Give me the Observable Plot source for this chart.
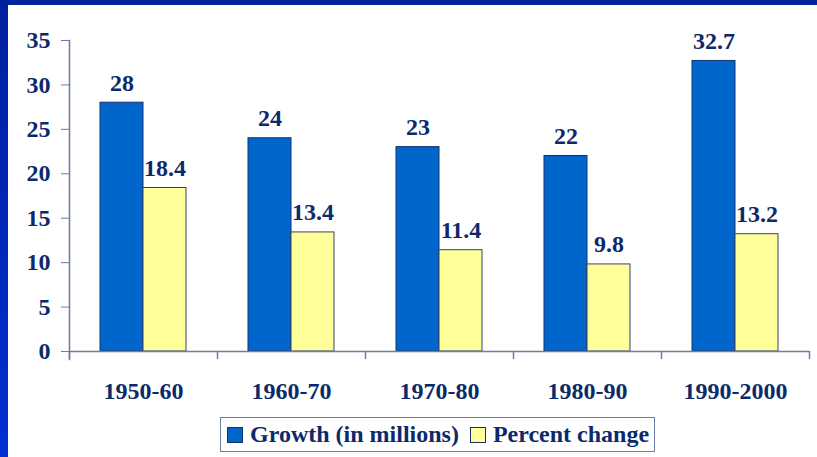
<!DOCTYPE html>
<html>
<head>
<meta charset="utf-8">
<script src="https://cdn.jsdelivr.net/npm/d3@7"></script>
<script src="https://cdn.jsdelivr.net/npm/@observablehq/plot@0.6"></script>
<style>
  html, body { margin: 0; padding: 0; background: #fff; }
  #wrap { position: relative; width: 817px; height: 457px; overflow: hidden; background: #fff; }
  #topband { position: absolute; left: 0; top: 0; width: 817px; height: 5px; background: #00229c; }
  #leftband { position: absolute; left: 0; top: 0; width: 8px; height: 457px; background: linear-gradient(#00209e, #0030d2); }
  #chart { position: absolute; left: 0; top: 0; }
  #chart svg text { font-family: "Liberation Serif", "Times New Roman", Times, serif; font-weight: bold; }
  #legend { position: absolute; left: 220px; top: 417px; width: 433px; height: 33px;
    border: 1.5px solid #6a7ca8; box-sizing: content-box; display: flex; align-items: center;
    font-family: "Liberation Serif", "Times New Roman", Times, serif; font-weight: bold; font-size: 24px; color: #0c2a6b; white-space: nowrap; }
  .sw { display: inline-block; width: 14px; height: 14px; border: 1px solid #1a2f66; margin-right: 7px; }
  .item { display: flex; align-items: center; }
</style>
</head>
<body>
<div id="wrap">
  <div id="chart"></div>
  <div id="topband"></div>
  <div id="leftband"></div>
  <div id="legend"></div>
</div>
<script>
const periods = ["1950-60", "1960-70", "1970-80", "1980-90", "1990-2000"];
const growth = [28, 24, 23, 22, 32.7];
const percentChange = [18.4, 13.4, 11.4, 9.8, 13.2];
const yTicks = [0, 5, 10, 15, 20, 25, 30, 35];
const seriesNames = ["Growth (in millions)", "Percent change"];
const seriesColors = ["#0066cc", "#ffff99"];

const navy = "#0c2a6b";
const axisColor = "#6a7ca8";

const growthRows = periods.map((p, i) => ({period: p, value: growth[i]}));
const pctRows = periods.map((p, i) => ({period: p, value: percentChange[i]}));

const chart = Plot.plot({
  width: 817,
  height: 410,
  marginLeft: 69,
  marginRight: 8,
  marginTop: 40,
  marginBottom: 59,
  style: {fontFamily: "'Liberation Serif', 'Times New Roman', serif", fontWeight: "bold", fontSize: "24px", color: navy, background: "transparent", overflow: "visible"},
  x: {domain: periods, padding: 0, label: null},
  y: {domain: [0, 35], label: null},
  marks: [
    Plot.barY(growthRows, {x: "period", y: "value", fill: seriesColors[0], stroke: "#14306e", strokeWidth: 1, insetLeft: 31, insetRight: 74}),
    Plot.barY(pctRows, {x: "period", y: "value", fill: seriesColors[1], stroke: "#3a3f6a", strokeWidth: 1, insetLeft: 74, insetRight: 31}),
    Plot.text(growthRows, {x: "period", y: "value", text: d => String(d.value), dx: -21.5, dy: -12, lineAnchor: "bottom", fill: navy}),
    Plot.text(pctRows, {x: "period", y: "value", text: d => String(d.value), dx: 21.5, dy: -12, lineAnchor: "bottom", fill: navy}),
    Plot.ruleY([0], {stroke: axisColor, strokeWidth: 1.5}),
    Plot.frame({anchor: "left", stroke: axisColor, strokeWidth: 1.5, insetBottom: -8}),
    Plot.ruleX(periods, {x: d => d, dx: -74, y1: 0, y2: 0, insetBottom: -8, stroke: axisColor, strokeWidth: 1.5}),
    Plot.ruleX(periods.slice(-1), {x: d => d, dx: 74, y1: 0, y2: 0, insetBottom: -8, stroke: axisColor, strokeWidth: 1.5}),
    Plot.axisY({ticks: yTicks, tickSize: 8, tickPadding: 11, stroke: axisColor, fill: navy, label: null}),
    Plot.axisX({tickSize: 0, tickPadding: 30, fill: navy, label: null})
  ]
});
document.getElementById("chart").appendChild(chart);

const legend = document.getElementById("legend");
seriesNames.forEach((name, i) => {
  const item = document.createElement("span");
  item.className = "item";
  item.style.marginLeft = i === 0 ? "6px" : "11px";
  const sw = document.createElement("span");
  sw.className = "sw";
  sw.style.background = seriesColors[i];
  item.appendChild(sw);
  item.appendChild(document.createTextNode(name));
  legend.appendChild(item);
});
</script>
</body>
</html>
